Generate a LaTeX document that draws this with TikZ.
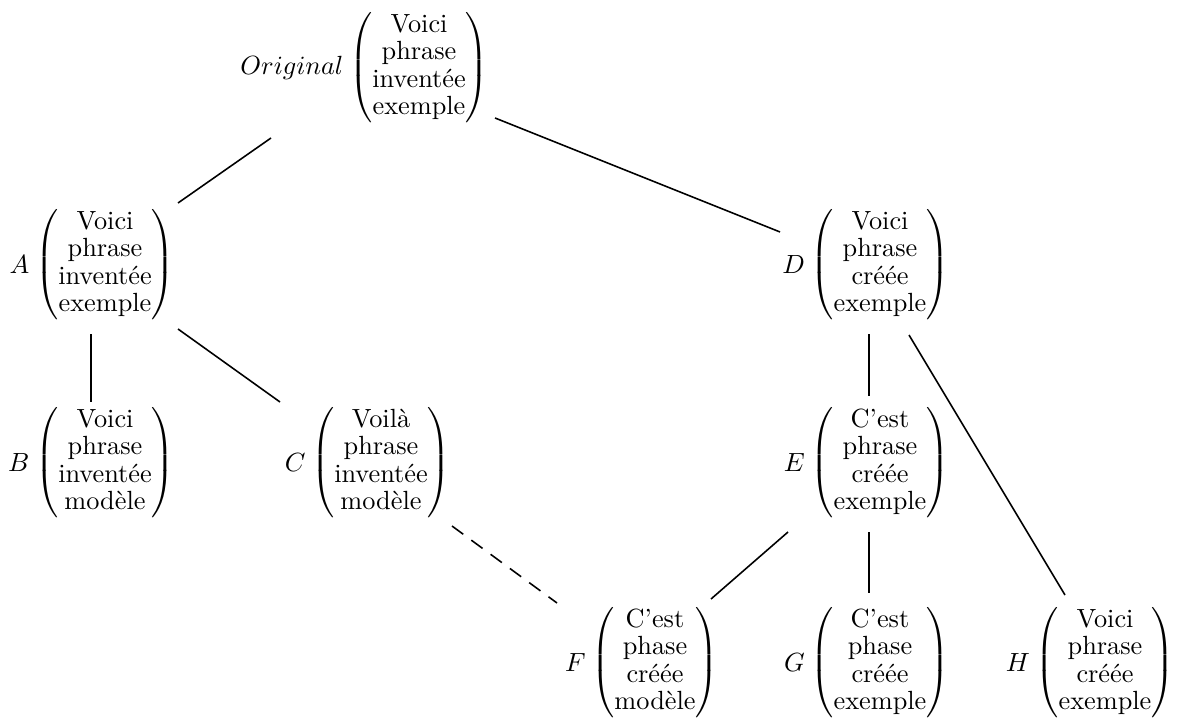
\documentclass[tikz,border=0pt]{standalone}
\usepackage{amsmath}
\usetikzlibrary{calc}
\newcommand{\vectxt}[4]{\renewcommand{\arraystretch}{0.87}\delimitershortfall=2pt$\begin{pmatrix}\text{#1}\\\text{#2}\\\text{#3}\\\text{#4}\end{pmatrix}$}
\tikzset{
  vecnode/.style={inner sep=0pt, outer sep=0pt, label={[inner sep=0pt, label distance=2pt]left:$#1$}},
  edge/.style={line width=0.6pt, black},
  dashededge/.style={edge, dash pattern=on 5.3pt off 3.8pt}
}
\begin{document}
\begin{tikzpicture}[x=0.38023pt, y=-0.38023pt]
\useasboundingbox (0,0) rectangle (1185,724);
\node[vecnode=Original] (O) at (419,68) {\vectxt{Voici}{phrase}{inventée}{exemple}};
\node[vecnode=A] (A) at (105,265) {\vectxt{Voici}{phrase}{inventée}{exemple}};
\node[vecnode=D] (D) at (880,265) {\vectxt{Voici}{phrase}{créée}{exemple}};
\node[vecnode=B] (B) at (105,463) {\vectxt{Voici}{phrase}{inventée}{modèle}};
\node[vecnode=C] (C) at (381,463) {\vectxt{Voilà}{phrase}{inventée}{modèle}};
\node[vecnode=E] (E) at (880,463) {\vectxt{C'est}{phrase}{créée}{exemple}};
\node[vecnode=F] (F) at (655,663) {\vectxt{C'est}{phase}{créée}{modèle}};
\node[vecnode=G] (G) at (880,663) {\vectxt{C'est}{phase}{créée}{exemple}};
\node[vecnode=H] (H) at (1105,663) {\vectxt{Voici}{phrase}{créée}{exemple}};
\draw[edge] ($(O)+(-148,70)$) -- ($(A)+(73,-62)$);
\draw[edge] ($(O)+(76,50)$) -- ($(D)+(-100,-33)$);
\draw[edge] ($(A)+(-14,69)$) -- ($(B)+(-14,-61)$);
\draw[edge] ($(A)+(73,64)$) -- ($(C)+(-101,-61)$);
\draw[dashededge] ($(C)+(71,63)$) -- ($(F)+(-98,-60)$);
\draw[edge] ($(D)+(-11,69)$) -- ($(E)+(-11,-67)$);
\draw[edge] ($(D)+(29,70)$) -- ($(H)+(-40,-68)$);
\draw[edge] ($(E)+(-92,69)$) -- ($(F)+(56,-64)$);
\draw[edge] ($(E)+(-11,69)$) -- ($(G)+(-11,-70)$);
\end{tikzpicture}
\end{document}
